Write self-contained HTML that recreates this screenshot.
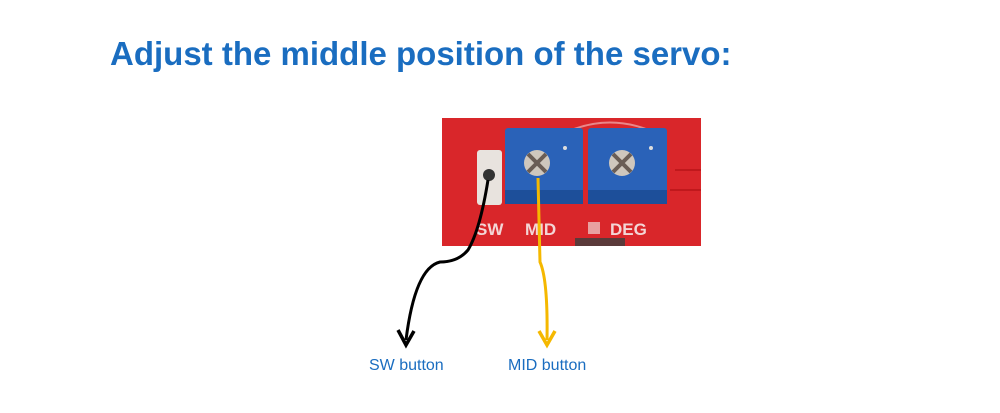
<!DOCTYPE html>
<html><head><style>
body{margin:0;width:1000px;height:408px;background:#fff;overflow:hidden;font-family:"Liberation Sans",sans-serif}
</style></head><body>
<svg width="1000" height="408" viewBox="0 0 1000 408" xmlns="http://www.w3.org/2000/svg">
<text x="110" y="65" font-family="Liberation Sans" font-weight="bold" font-size="33" fill="#1a6dc0">Adjust the middle position of the servo:</text>
<rect x="442" y="118" width="259" height="128" fill="#d9262a"/>
<path d="M560 135 Q610 110 660 135" stroke="#e8888a" stroke-width="2" fill="none"/>
<path d="M675 170 L701 170 M670 190 L701 190" stroke="#c0181c" stroke-width="2"/>
<rect x="477" y="150" width="25" height="55" fill="#e8e3de" rx="3"/>
<circle cx="489" cy="175" r="6" fill="#333"/>
<rect x="505" y="128" width="78" height="76" fill="#2a62b8" rx="3"/>
<rect x="505" y="190" width="78" height="14" fill="#1d4f9a"/>
<circle cx="537" cy="163" r="13" fill="#cfc7bd"/>
<path d="M528 154 L546 172 M546 154 L528 172" stroke="#6a5d55" stroke-width="4"/>
<circle cx="565" cy="148" r="2" fill="#ddd"/>
<rect x="588" y="128" width="79" height="76" fill="#2a62b8" rx="3"/>
<rect x="588" y="190" width="79" height="14" fill="#1d4f9a"/>
<circle cx="622" cy="163" r="13" fill="#cfc7bd"/>
<path d="M613 154 L631 172 M631 154 L613 172" stroke="#6a5d55" stroke-width="4"/>
<circle cx="651" cy="148" r="2" fill="#ddd"/>
<g font-family="Liberation Sans" font-weight="bold" font-size="17" fill="#f3d6d6">
<text x="476" y="235">SW</text><text x="525" y="235">MID</text><text x="610" y="235">DEG</text>
</g>
<rect x="588" y="222" width="12" height="12" fill="#e8a0a0"/>
<rect x="575" y="238" width="50" height="8" fill="#5a3a3a"/>
<path d="M488 180 Q480 230 468 250 Q458 262 440 262 Q415 268 406 340" stroke="#000" stroke-width="3" fill="none"/>
<path d="M398 330 L406 345 L414 331" stroke="#000" stroke-width="3.5" fill="none"/>
<path d="M538 178 L540 262 Q548 280 547 340" stroke="#f5b800" stroke-width="3" fill="none"/>
<path d="M539 331 L547 345 L555 331" stroke="#f5b800" stroke-width="3.5" fill="none"/>
<g font-family="Liberation Sans" font-size="16" fill="#1a6dc0">
<text x="369" y="370">SW button</text><text x="508" y="370">MID button</text>
</g>
</svg>
</body></html>
